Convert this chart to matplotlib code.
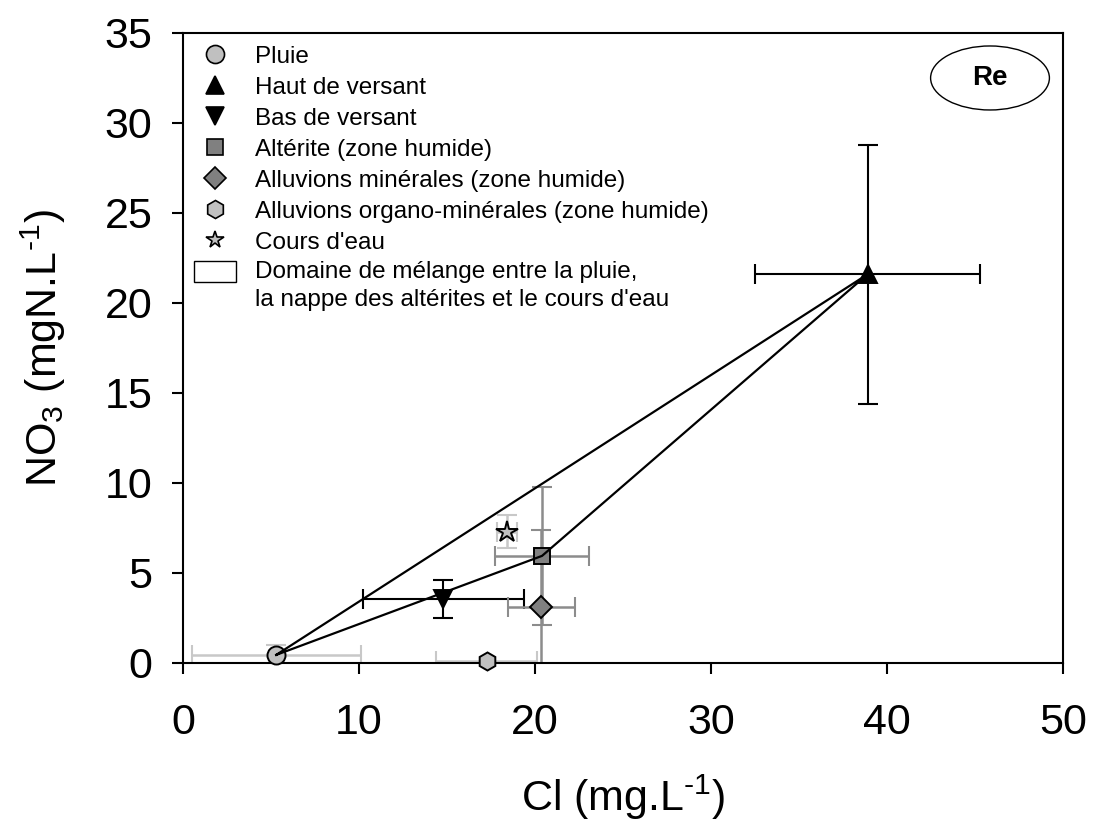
import matplotlib
matplotlib.use("Agg")
import matplotlib.pyplot as plt
from matplotlib.lines import Line2D
from matplotlib.patches import Rectangle, Ellipse, Polygon
from matplotlib.legend_handler import HandlerPatch

plt.rcParams['font.family'] = ['Liberation Sans', 'DejaVu Sans']
plt.rcParams['mathtext.fontset'] = 'custom'
plt.rcParams['mathtext.rm'] = 'Liberation Sans'
plt.rcParams['mathtext.it'] = 'Liberation Sans:italic'
plt.rcParams['mathtext.bf'] = 'Liberation Sans:bold'

# Mean Cl and NO3 concentrations with their standard deviations
groups = ["Pluie", "Haut de versant", "Bas de versant", "Altérite (zone humide)",
          "Alluvions minérales (zone humide)",
          "Alluvions organo-minérales (zone humide)", "Cours d'eau"]
cl = [5.3, 38.9, 14.8, 20.4, 20.35, 17.25, 18.4]
no3 = [0.45, 21.6, 3.55, 5.95, 3.1, 0.1, 7.3]
cl_err = [4.8, 6.4, 4.6, 2.65, 1.9, 2.85, 0.55]
no3_err = [0.55, 7.2, 1.05, 3.85, 4.3, 0.0, 0.9]

markers = ['o', '^', 'v', 's', 'D', 'h', '*']
sizes = [13, 13, 13, 12, 11, 13, 16]
faces = ['#c0c0c0', 'black', 'black', '#808080', '#808080', '#c0c0c0', '#c0c0c0']
err_colors = ['#c8c8c8', 'black', 'black', '#8c8c8c', '#8c8c8c', '#c8c8c8', '#c8c8c8']

# Mixing domain: rain, weathered-rock groundwater and upslope end-members
domain_idx = [0, 3, 1]
domain_label = "Domaine de mélange entre la pluie,\nla nappe des altérites et le cours d'eau"

fig = plt.figure(figsize=(10.93, 8.25), dpi=100)
ax = fig.add_axes([0.1674, 0.1964, 0.8052, 0.7636])

ax.set_xlim(0, 50)
ax.set_ylim(0, 35)
ax.set_xticks([0, 10, 20, 30, 40, 50])
ax.set_yticks([0, 5, 10, 15, 20, 25, 30, 35])

verts = [(cl[i], no3[i]) for i in domain_idx]
ax.add_patch(Polygon(verts, closed=True, facecolor='white', edgecolor='none', zorder=1))

for i in range(len(groups)):
    ax.errorbar(cl[i], no3[i], xerr=cl_err[i], yerr=no3_err[i] if no3_err[i] > 0 else None,
                fmt='none', ecolor=err_colors[i], elinewidth=1.8 if err_colors[i] != 'black' else 1.5,
                capsize=7, capthick=1.5, zorder=2)

for i in range(len(groups)):
    ax.plot(cl[i], no3[i], linestyle='none', marker=markers[i], markersize=sizes[i],
            markerfacecolor=faces[i], markeredgecolor='black', markeredgewidth=1.4,
            zorder=3, clip_on=False)

px = [v[0] for v in verts] + [verts[0][0]]
py = [v[1] for v in verts] + [verts[0][1]]
ax.plot(px, py, color='black', linewidth=1.6, zorder=4, solid_joinstyle='miter')

for s in ax.spines.values():
    s.set_linewidth(1.5)
ax.tick_params(direction='out', length=8, width=1.5, labelsize=31)
ax.tick_params(axis='x', pad=21)
ax.tick_params(axis='y', pad=14)

ax.set_xlabel('Cl (mg.L$^{\\text{-1}}$)', fontsize=31, labelpad=21)
ax.set_ylabel('NO$_3$ (mgN.L$^{\\text{-1}}$)', fontsize=31, labelpad=26)

# Site label
ax.add_patch(Ellipse((0.917, 0.9286), 0.135, 0.1016, transform=ax.transAxes,
                     facecolor='white', edgecolor='black', linewidth=1.0, zorder=5))
ax.text(0.917, 0.9286, 'Re', transform=ax.transAxes, ha='center', va='center',
        fontsize=20, fontweight='bold', zorder=6)

handles = []
for i in range(len(groups)):
    handles.append(Line2D([], [], linestyle='none', marker=markers[i],
                          markersize=sizes[i] if markers[i] != '*' else 13,
                          markerfacecolor=faces[i], markeredgecolor='black',
                          markeredgewidth=1.2))
box = Rectangle((0, 0), 1, 1, facecolor='white', edgecolor='black', linewidth=1.0)
handles.append(box)
labels = groups + [domain_label]


def raised_box(legend, orig_handle, xdescent, ydescent, width, height, fontsize):
    return Rectangle((-xdescent, -ydescent + 0.6 * fontsize), width, height)


leg = ax.legend(handles, labels, loc='upper left', bbox_to_anchor=(0.0, 1.0),
                frameon=False, fontsize=17.5, borderaxespad=0, borderpad=0.45,
                handlelength=1.73, handleheight=1.0, handletextpad=0.78,
                labelspacing=0.28,
                handler_map={Rectangle: HandlerPatch(patch_func=raised_box)})
for t in leg.get_texts():
    t.set_linespacing(1.33)
leg.set_zorder(6)

fig.savefig('out.png', dpi=100)
